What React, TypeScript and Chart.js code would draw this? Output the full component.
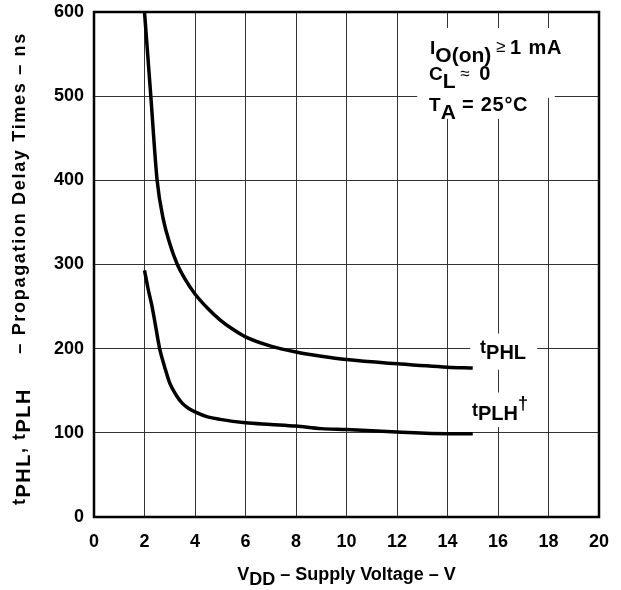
import React, { useEffect, useRef } from "react";
import { Chart, registerables } from "chart.js";

Chart.register(...registerables);

const FONT = '"Liberation Sans", Arial, Helvetica, sans-serif';

// Data
const xTickValues = [0, 2, 4, 6, 8, 10, 12, 14, 16, 18, 20];
const yTickValues = [0, 100, 200, 300, 400, 500, 600];

const tphlVdd = [2, 2.25, 2.5, 2.75, 3, 3.3, 3.6, 4, 4.5, 5, 5.5, 6, 7, 8, 9, 10, 12, 14, 15];
const tphlNs = [600, 500, 400, 353, 325, 300, 283, 265, 248, 234, 223, 214, 203, 196, 191, 187, 182, 178, 177];

const tplhVdd = [2, 2.15, 2.3, 2.45, 2.6, 2.8, 3, 3.25, 3.5, 3.75, 4, 4.5, 5, 6, 7, 8, 9, 10, 12, 14, 15];
const tplhNs = [293, 270, 250, 225, 200, 178, 159, 145, 135, 129, 125, 119, 116, 112, 110, 108, 105, 104, 101, 99, 99];

type Piece = [string, number, number, string?, number?]; // text, size, dy, weight, letter spacing

function setFont(ctx: CanvasRenderingContext2D, p: Piece) {
  ctx.font = `${p[3] || "bold"} ${p[1]}px ${FONT}`;
  (ctx as any).letterSpacing = `${p[4] || 0}px`;
}

function drawPieces(ctx: CanvasRenderingContext2D, pieces: Piece[], x: number, y: number) {
  let cx = x;
  for (const p of pieces) {
    setFont(ctx, p);
    ctx.fillText(p[0], cx, y + p[2]);
    cx += ctx.measureText(p[0]).width;
  }
  (ctx as any).letterSpacing = "0px";
  return cx;
}

function piecesWidth(ctx: CanvasRenderingContext2D, pieces: Piece[]) {
  let w = 0;
  for (const p of pieces) {
    setFont(ctx, p);
    w += ctx.measureText(p[0]).width;
  }
  (ctx as any).letterSpacing = "0px";
  return w;
}

// white masks behind in-plot texts: [x0, x1, y0, y1] in data units
const masks: number[][] = [
  [12.8, 18.25, 498, 581],
  [12.8, 17.4, 473, 498],
  [14.9, 17.55, 175, 218],
  [14.9, 17.5, 107, 148],
];

const overlay = {
  id: "overlay",
  beforeDatasetsDraw(chart: any) {
    const { ctx, scales } = chart;
    const xs = scales.x;
    const ys = scales.y;
    ctx.save();
    ctx.fillStyle = "#fff";
    for (const [x0, x1, y0, y1] of masks) {
      const px0 = xs.getPixelForValue(x0);
      const px1 = xs.getPixelForValue(x1);
      const py0 = ys.getPixelForValue(y1);
      const py1 = ys.getPixelForValue(y0);
      ctx.fillRect(px0, py0, px1 - px0, py1 - py0);
    }
    ctx.restore();
  },
  afterDraw(chart: any) {
    const { ctx, chartArea, scales } = chart;
    const xs = scales.x;
    const ys = scales.y;
    ctx.save();
    // frame
    ctx.strokeStyle = "#000";
    ctx.lineWidth = 2.5;
    ctx.strokeRect(chartArea.left, chartArea.top, chartArea.right - chartArea.left, chartArea.bottom - chartArea.top);

    ctx.fillStyle = "#000";
    ctx.textBaseline = "alphabetic";
    ctx.textAlign = "left";

    // conditions box
    const ax = xs.getPixelForValue(13.31);
    drawPieces(ctx, [["I", 19, 0], ["O(on)", 21, 8], [" \u2265 ", 17, -2, "normal"], ["1 mA", 20, 0, "bold", 0.8]], ax, ys.getPixelForValue(550));
    drawPieces(ctx, [["C", 19, 0], ["L", 21, 8], [" \u2248  ", 17, -1, "normal"], ["0", 20, 0]], ax - 1, ys.getPixelForValue(519.4));
    drawPieces(ctx, [["T", 19, 0], ["A", 21, 8], [" = 25\u00B0C", 20, 0, "bold", 0.7]], ax - 1, ys.getPixelForValue(482.6));

    // curve labels
    drawPieces(ctx, [["t", 18, 0], ["PHL", 20, 6]], xs.getPixelForValue(15.29), ys.getPixelForValue(194.5));
    drawPieces(ctx, [["t", 18, 0], ["PLH", 20, 4], ["\u2020", 18, -7]], xs.getPixelForValue(14.97), ys.getPixelForValue(119.8));

    // x axis title
    const xt: Piece[] = [["V", 18, 0], ["DD", 18, 5], [" \u2013 Supply Voltage \u2013 V", 18, 0]];
    const xw = piecesWidth(ctx, xt);
    drawPieces(ctx, xt, (chartArea.left + chartArea.right) / 2 - xw / 2, 580);

    // y axis title (rotated)
    const ytA: Piece[] = [["t", 18, 0, "bold", 1.5], ["PHL", 20, 5, "bold", 1.5], [", ", 18, 0, "bold", 1.5], ["t", 18, 0, "bold", 1.5], ["PLH", 20, 5, "bold", 1.5]];
    const ytB: Piece[] = [["\u2013 Propagation Delay Times \u2013 ns", 18, 0, "bold", 1.7]];
    const wB = piecesWidth(ctx, ytB);
    ctx.translate(25, 505);
    ctx.rotate(-Math.PI / 2);
    drawPieces(ctx, ytA, 0, 0);
    drawPieces(ctx, ytB, 473 - wB, 0);
    ctx.restore();
  },
};

export default function App() {
  const ref = useRef<HTMLCanvasElement | null>(null);
  useEffect(() => {
    if (!ref.current) return;
    const tickFont = { family: FONT, size: 18, weight: "bold" as const };
    const chart = new Chart(ref.current, {
      type: "scatter",
      data: {
        datasets: [
          {
            label: "tPHL",
            data: tphlVdd.map((v, i) => ({ x: v, y: tphlNs[i] })),
            showLine: true,
            borderColor: "#000",
            borderWidth: 3.5,
            pointRadius: 0,
            cubicInterpolationMode: "monotone",
            fill: false,
          },
          {
            label: "tPLH",
            data: tplhVdd.map((v, i) => ({ x: v, y: tplhNs[i] })),
            showLine: true,
            borderColor: "#000",
            borderWidth: 3.5,
            pointRadius: 0,
            cubicInterpolationMode: "monotone",
            fill: false,
          },
        ],
      },
      options: {
        responsive: false,
        animation: false,
        layout: { padding: { top: 12, right: 22, left: 0, bottom: 0 } },
        plugins: { legend: { display: false }, tooltip: { enabled: false } },
        scales: {
          x: {
            type: "linear",
            min: 0,
            max: 20,
            afterBuildTicks: (s: any) => {
              s.ticks = xTickValues.map((v) => ({ value: v }));
            },
            ticks: { color: "#000", font: tickFont, padding: 14, maxRotation: 0, autoSkip: false },
            grid: { color: "#333", lineWidth: 1, drawTicks: false },
            border: { display: false },
            afterFit: (s: any) => {
              s.height = 73;
              s.paddingLeft = 0;
              s.paddingRight = 0;
            },
          },
          y: {
            type: "linear",
            min: 0,
            max: 600,
            afterBuildTicks: (s: any) => {
              s.ticks = yTickValues.map((v) => ({ value: v }));
            },
            ticks: { color: "#000", font: tickFont, padding: 10, autoSkip: false },
            grid: { color: "#333", lineWidth: 1, drawTicks: false },
            border: { display: false },
            afterFit: (s: any) => {
              s.width = 94;
              s.paddingTop = 0;
              s.paddingBottom = 0;
            },
          },
        },
      },
      plugins: [overlay],
    } as any);
    return () => chart.destroy();
  }, []);
  return (
    <div style={{ position: "absolute", left: 0, top: 0, width: 621, height: 590, background: "#fff" }}>
      <canvas ref={ref} width={621} height={590} style={{ width: 621, height: 590, display: "block" }} />
    </div>
  );
}
